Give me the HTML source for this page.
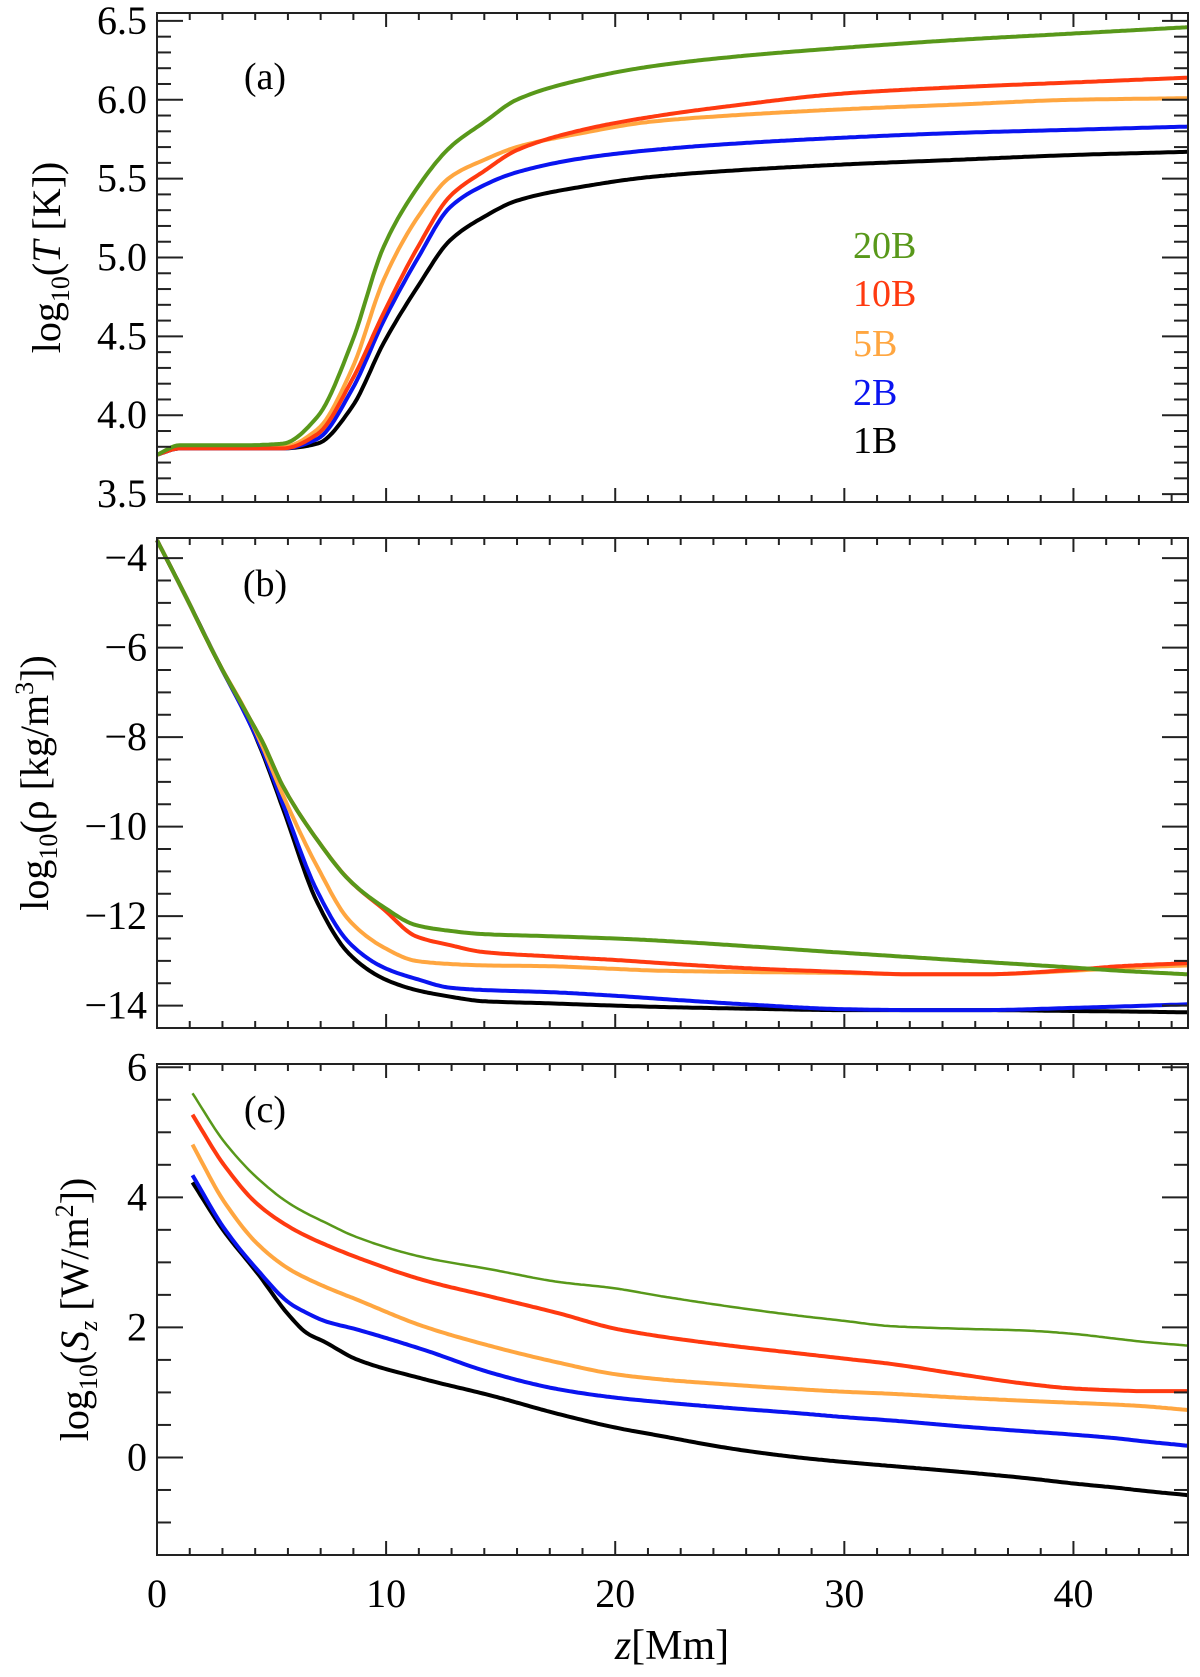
<!DOCTYPE html>
<html><head><meta charset="utf-8"><style>
body{margin:0;background:#fff}
svg text{font-family:"Liberation Serif",serif;fill:#000}
</style></head><body>
<svg id="fig" width="1200" height="1672" viewBox="0 0 1200 1672" xmlns="http://www.w3.org/2000/svg"></svg>
<script>
const xTicks=[0,10,20,30,40];
const seriesNames=['1B','2B','5B','10B','20B'];
const seriesColors=['#000000','#0a14f0','#ffa640','#ff3a10','#58981a'];
// Panel a: log10 T
const aX=[0,1,2,3,4,5,5.5,7,8.5,9.9,11.4,12.8,14.3,15.7,18.6,21.5,25,30,35,40,45];
const aBlack=[3.75,3.79,3.79,3.79,3.79,3.79,3.79,3.82,4.05,4.46,4.82,5.11,5.26,5.36,5.45,5.51,5.55,5.59,5.62,5.65,5.67];
const aBlue=[3.75,3.79,3.79,3.79,3.79,3.79,3.79,3.85,4.16,4.60,5.0,5.32,5.46,5.54,5.63,5.68,5.72,5.76,5.79,5.81,5.83];
const aOrange=[3.75,3.8,3.8,3.8,3.8,3.8,3.8,3.91,4.29,4.86,5.26,5.51,5.62,5.70,5.79,5.86,5.9,5.94,5.97,6.0,6.01];
const aRed=[3.75,3.79,3.79,3.79,3.79,3.79,3.79,3.88,4.22,4.65,5.07,5.39,5.55,5.68,5.81,5.89,5.96,6.04,6.08,6.11,6.14];
const aGreen=[3.75,3.81,3.81,3.81,3.81,3.815,3.82,3.99,4.46,5.07,5.45,5.70,5.86,6.0,6.13,6.21,6.27,6.33,6.38,6.42,6.46];
// Panel b: log10 rho
const bX=[0,1.15,2.6,4.06,4.6,5.5,7.0,8.4,9.9,11.3,12.8,14.2,17.2,20,22,26,30,33,36,40,42,45];
const bBlack=[-3.6,-4.75,-6.25,-7.7,-8.35,-9.6,-11.7,-12.85,-13.4,-13.65,-13.8,-13.9,-13.95,-14.0,-14.03,-14.07,-14.1,-14.1,-14.1,-14.12,-14.13,-14.15];
const bBlue=[-3.6,-4.75,-6.25,-7.7,-8.3,-9.5,-11.45,-12.6,-13.15,-13.4,-13.6,-13.65,-13.7,-13.78,-13.85,-13.98,-14.08,-14.1,-14.1,-14.05,-14.02,-13.97];
const bOrange=[-3.6,-4.75,-6.25,-7.6,-8.2,-9.3,-10.9,-12.1,-12.7,-13.0,-13.07,-13.1,-13.12,-13.18,-13.22,-13.25,-13.27,-13.3,-13.3,-13.22,-13.16,-13.1];
const bRed=[-3.6,-4.75,-6.25,-7.6,-8.1,-9.1,-10.3,-11.2,-11.85,-12.45,-12.65,-12.8,-12.9,-12.98,-13.05,-13.17,-13.25,-13.3,-13.3,-13.2,-13.12,-13.05];
const bGreen=[-3.6,-4.75,-6.25,-7.6,-8.1,-9.1,-10.3,-11.2,-11.8,-12.2,-12.33,-12.4,-12.45,-12.5,-12.55,-12.68,-12.82,-12.92,-13.02,-13.15,-13.22,-13.3];
// Panel c: log10 Sz
const cX=[1.55,2.9,4.37,5.8,6.55,7.3,8.7,11.6,14.6,17.5,20,22,25,28,30,32,35,38,40,42,43,45];
const cBlack=[4.23,3.49,2.84,2.17,1.91,1.78,1.51,1.21,0.95,0.67,0.46,0.33,0.14,0.0,-0.07,-0.13,-0.22,-0.32,-0.4,-0.47,-0.51,-0.58];
const cBlue=[4.34,3.54,2.89,2.37,2.22,2.1,1.97,1.66,1.3,1.05,0.92,0.85,0.76,0.68,0.62,0.57,0.48,0.4,0.35,0.29,0.25,0.18];
const cOrange=[4.81,3.95,3.29,2.89,2.75,2.63,2.43,2.02,1.71,1.46,1.28,1.2,1.12,1.05,1.01,0.98,0.92,0.87,0.84,0.81,0.79,0.73];
const cRed=[5.27,4.51,3.9,3.54,3.4,3.28,3.08,2.73,2.47,2.22,1.98,1.86,1.72,1.6,1.52,1.44,1.28,1.13,1.06,1.03,1.02,1.02];
const cGreen=[5.6,4.87,4.3,3.9,3.75,3.62,3.39,3.08,2.89,2.7,2.6,2.48,2.32,2.18,2.1,2.02,1.98,1.95,1.9,1.82,1.78,1.72];
const aYTicks=['3.5','4.0','4.5','5.0','5.5','6.0','6.5'];
const bYTicks=['-14','-12','-10','-8','-6','-4'];
const cYTicks=['0','2','4','6'];

const NS='http://www.w3.org/2000/svg';
const svg=document.getElementById('fig');
const X0=157,X1=1188,XMIN=0,XMAX=45;
function xs(v){return X0+(v-XMIN)/(XMAX-XMIN)*(X1-X0);}
function mk(tag,attrs,parent){const e=document.createElementNS(NS,tag);for(const k in attrs)e.setAttribute(k,attrs[k]);(parent||svg).appendChild(e);return e;}
// monotone cubic (Fritsch-Carlson) sampled densely
function monoPath(X,Y,ys){
  const n=X.length,d=[],m=new Array(n);
  for(let i=0;i<n-1;i++)d.push((Y[i+1]-Y[i])/(X[i+1]-X[i]));
  m[0]=d[0];m[n-1]=d[n-2];
  for(let i=1;i<n-1;i++){
    if(d[i-1]*d[i]<=0)m[i]=0;
    else{const w1=2*(X[i+1]-X[i])+(X[i]-X[i-1]),w2=(X[i+1]-X[i])+2*(X[i]-X[i-1]);m[i]=(w1+w2)/(w1/d[i-1]+w2/d[i]);}
  }
  let s='';
  for(let i=0;i<n-1;i++){
    const h=X[i+1]-X[i];const steps=Math.max(4,Math.ceil(h*8));
    for(let k=(i===0?0:1);k<=steps;k++){
      const t=k/steps,t2=t*t,t3=t2*t;
      const v=(2*t3-3*t2+1)*Y[i]+(t3-2*t2+t)*h*m[i]+(-2*t3+3*t2)*Y[i+1]+(t3-t2)*h*m[i+1];
      const px=xs(X[i]+t*h),py=ys(v);
      s+=(s?'L':'M')+px.toFixed(1)+','+py.toFixed(1);
    }
  }
  return s;
}
function panel(cfg){
  const g=mk('g',{});
  
  
  const ys=v=>cfg.bot-(v-cfg.ymin)/(cfg.ymax-cfg.ymin)*(cfg.bot-cfg.top);
  cfg.series.forEach((s,i)=>{
    const p=mk('path',{d:monoPath(cfg.x,s,ys),fill:'none',stroke:seriesColors[i],'stroke-width':cfg.sw?cfg.sw[i]:4,'stroke-linejoin':'round'},g);
    
    
  });
  const f=mk('rect',{x:X0,y:cfg.top,width:X1-X0,height:cfg.bot-cfg.top,fill:'none',stroke:'#222','stroke-width':2},g);
  
  
  for(let v=0;v<=45.01;v+=10/7){
    const x=xs(v);const len=(Math.abs(v-Math.round(v/10)*10)<0.01)?14:7;
    mk('line',{x1:x,y1:cfg.bot,x2:x,y2:cfg.bot-len,stroke:'#222','stroke-width':2},g);
    mk('line',{x1:x,y1:cfg.top,x2:x,y2:cfg.top+len,stroke:'#222','stroke-width':2},g);
  }
  for(let v=cfg.minorStart;v<=cfg.ymax+1e-6;v+=cfg.minor){
    const y=ys(v);const isMaj=Math.abs((v-cfg.majStart)/cfg.major-Math.round((v-cfg.majStart)/cfg.major))<1e-3;
    const len=isMaj?26:14;
    mk('line',{x1:X0,y1:y,x2:X0+len,y2:y,stroke:'#222','stroke-width':2},g);
    mk('line',{x1:X1,y1:y,x2:X1-len,y2:y,stroke:'#222','stroke-width':2},g);
  }
  cfg.labels.forEach(l=>{
    const t=mk('text',{x:X0-10,y:ys(parseFloat(l))+13,'text-anchor':'end','font-size':40},g);
    t.textContent=l.replace('-','\u2212');
    
    
  });
  const pl=mk('text',{x:265,y:cfg.top+cfg.labY,'font-size':38,'text-anchor':'middle'},g);
  pl.textContent=cfg.panelLabel;
  
  
  const yt=mk('text',{transform:'translate('+cfg.titleX+','+((cfg.top+cfg.bot)/2)+') rotate(-90)','text-anchor':'middle','font-size':40},g);
  yt.innerHTML=cfg.title;
  
  
  return ys;
}
panel({name:'panel-a-temperature',top:13,bot:502,ymin:3.45,ymax:6.55,x:aX,series:[aBlack,aBlue,aOrange,aRed,aGreen],
  minor:0.1,minorStart:3.5,major:0.5,majStart:3.5,labels:aYTicks,panelLabel:'(a)',labY:76,titleX:60,
  title:'log<tspan font-size="26" dy="9">10</tspan><tspan dy="-9">(</tspan><tspan font-style="italic">T</tspan> [K])'});
panel({name:'panel-b-density',top:538,bot:1028,ymin:-14.5,ymax:-3.55,x:bX,series:[bBlack,bBlue,bOrange,bRed,bGreen],
  minor:0.5,minorStart:-14.5,major:2,majStart:-14,labels:bYTicks,panelLabel:'(b)',labY:58,titleX:48,
  title:'log<tspan font-size="26" dy="9">10</tspan><tspan dy="-9">(ρ [kg/m</tspan><tspan font-size="26" dy="-15">3</tspan><tspan dy="15">])</tspan>'});
panel({name:'panel-c-poynting-flux',top:1064,bot:1555,ymin:-1.5,ymax:6.05,x:cX,series:[cBlack,cBlue,cOrange,cRed,cGreen],sw:[4,4,4,4,2.5],
  minor:0.5,minorStart:-1.5,major:2,majStart:0,labels:cYTicks,panelLabel:'(c)',labY:58,titleX:88,
  title:'log<tspan font-size="26" dy="9">10</tspan><tspan dy="-9">(</tspan><tspan font-style="italic">S</tspan><tspan font-size="26" font-style="italic" dy="9">z</tspan><tspan dy="-9"> [W/m</tspan><tspan font-size="26" dy="-15">2</tspan><tspan dy="15">])</tspan>'});
xTicks.forEach(v=>{
  const t=mk('text',{x:xs(v),y:1607,'text-anchor':'middle','font-size':40});
  t.textContent=v;
  
  
});
const xt=mk('text',{x:672,y:1659,'text-anchor':'middle','font-size':42});
xt.innerHTML='<tspan font-style="italic">z</tspan>[Mm]';


const legY=[440,392,343,293,245];
seriesNames.forEach((n,i)=>{
  const t=mk('text',{x:853,y:legY[i]+13,'font-size':38});
  t.setAttribute('style','fill:'+seriesColors[i]);
  t.textContent=n;
  
  
});
</script>
</body></html>
